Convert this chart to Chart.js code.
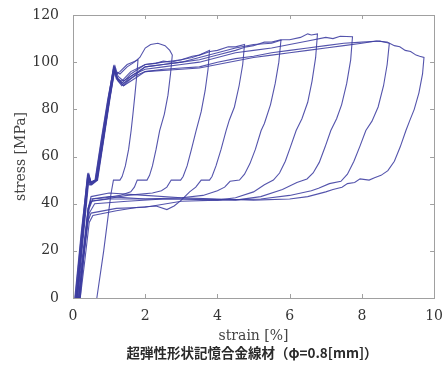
<!DOCTYPE html>
<html>
<head>
<meta charset="utf-8">
<script src="https://cdn.jsdelivr.net/npm/chart.js@4"></script>
<style>
  body { margin: 0; background: #fff; }
  #wrap { position: relative; width: 445px; height: 376px; }
  #caption {
    position: absolute; left: 0; top: 342px; width: 504px; text-align: center;
    font-family: "Noto Sans CJK JP", sans-serif; font-size: 13.5px; font-weight: bold; color: #2a2a2a;
  }
</style>
</head>
<body>
<div id="wrap">
  <canvas id="myChart" width="445" height="376"></canvas>
  <div id="caption">超弾性形状記憶合金線材（φ=0.8[mm]）</div>
</div>
<script>
// strain [%], stress [MPa], one array per load/unload cycle
var loop1 = [[0.12,0],[0.28,28],[0.43,52],[0.5,49],[0.66,50],[0.82,66],[1.0,84],[1.14,98],[1.2,95],[1.3,96],[1.5,99],[1.65,100],[1.8,101],
  [1.77,95],[1.72,87],[1.66,78],[1.61,71],[1.54,63],[1.45,56],[1.36,51.5],[1.3,50],[1.12,50],[1.05,44],[1.0,38],[0.85,20],[0.66,0]]
var loop2 = [[0.08,0],[0.25,28],[0.41,52],[0.47,49],[0.63,50],[0.8,66],[0.98,84],[1.12,98],[1.18,96],[1.3,95],[1.5,98],[1.7,100],[1.85,102],[2.0,106],[2.15,107.5],[2.35,108],[2.55,107],[2.68,105],[2.75,103],
  [2.7,95],[2.63,86],[2.53,78],[2.4,71],[2.3,63],[2.2,56],[2.12,52],[2.05,50],[1.78,50],[1.7,47],[1.6,45],[1.3,43.5],[0.9,42.5],[0.55,42],[0.45,38],[0.3,20],[0.16,0]]
var loop3 = [[0.1,0],[0.27,28],[0.42,52],[0.49,49],[0.65,50],[0.81,66],[1.0,85],[1.15,98],[1.22,93],[1.35,92],[1.6,96],[2.0,99],[2.3,99.5],[2.5,100.5],[2.7,100],[3.0,101],[3.3,102],[3.5,103],[3.78,105],
  [3.74,97],[3.66,88],[3.55,79],[3.41,71],[3.28,63],[3.16,56],[3.05,51.5],[2.98,50],[2.72,50],[2.6,47],[2.45,45.5],[2.2,44.5],[1.5,43.5],[0.9,42],[0.5,41],[0.42,37],[0.3,20],[0.15,0]]
var loop4 = [[0.06,0],[0.24,28],[0.4,52],[0.46,49],[0.62,50],[0.78,66],[0.98,85],[1.13,98],[1.2,94],[1.35,91],[1.6,95],[2.0,99],[2.5,100],[3.0,101],[3.3,102.5],[3.5,103],[3.8,104.5],[4.0,105],[4.3,106.5],[4.5,106.5],[4.75,107.5],
  [4.7,99],[4.6,90],[4.47,81],[4.33,75.5],[4.24,71],[4.1,63],[3.96,56],[3.85,51.5],[3.78,50],[3.55,50],[3.4,47],[3.23,45],[3.0,41.5],[2.8,39],[2.6,37.5],[2.3,39],[1.8,38.5],[1.2,37],[0.55,35],[0.45,32],[0.32,15],[0.2,0]]
var loop5 = [[0.1,0],[0.28,28],[0.44,52],[0.5,49],[0.67,50],[0.83,66],[1.02,85],[1.16,97],[1.24,93],[1.4,90],[1.6,93],[2.0,98],[2.5,99],[3.0,100],[3.5,101],[4.0,103],[4.5,105],[4.8,106.5],[5.0,107],[5.3,108.5],[5.5,108.5],[5.76,109.5],
  [5.7,100],[5.6,91],[5.47,82],[5.3,74],[5.21,71],[5.05,63],[4.9,57],[4.75,52.5],[4.61,50],[4.35,49.5],[4.2,47],[4.0,45.5],[3.6,43.5],[3.0,42.5],[2.0,42],[1.0,43],[0.5,42],[0.42,38],[0.28,20],[0.12,0]]
var loop6 = [[0.05,0],[0.23,28],[0.4,51],[0.46,48],[0.61,50],[0.77,66],[0.96,84],[1.12,97],[1.2,93],[1.35,90],[1.6,94],[2.0,98],[2.5,99],[3.0,100],[3.5,102],[4.0,104],[4.5,106],[5.0,107.5],[5.5,108],[5.8,109.5],[6.0,109.5],[6.3,110.5],[6.5,112],[6.6,111.5],[6.77,112],
  [6.72,102],[6.62,92],[6.5,83],[6.34,76],[6.18,71],[6.02,64],[5.88,58],[5.72,53],[5.55,50],[5.3,48],[5.0,45],[4.5,42.5],[4.0,41.5],[3.0,42],[2.0,42],[1.0,42],[0.5,41],[0.42,38],[0.3,20],[0.15,0]]
var loop7 = [[0.12,0],[0.3,28],[0.45,52],[0.52,48],[0.68,50],[0.84,66],[1.03,85],[1.17,98],[1.25,94],[1.4,92],[1.7,95],[2.0,97],[2.5,98],[3.0,99],[3.5,100],[4.0,102],[4.5,104],[5.0,105],[5.5,106],[6.0,107.5],[6.5,109],[7.0,110.5],[7.2,110],[7.4,111],[7.74,110.8],
  [7.69,101],[7.58,91],[7.44,82],[7.3,76],[7.14,71],[6.98,64],[6.82,57.5],[6.65,53],[6.48,50.5],[6.2,49],[5.8,46],[5.2,43],[4.5,41.5],[3.5,42],[2.5,42],[1.5,41],[0.6,40],[0.45,36],[0.3,18],[0.18,0]]
var loop8 = [[0.08,0],[0.26,28],[0.42,51],[0.48,48],[0.64,50],[0.8,66],[1.0,84],[1.14,97],[1.22,93],[1.4,91],[1.7,94],[2.0,96],[2.5,97],[3.0,97.5],[3.5,98],[4.0,100],[4.5,101.5],[5.0,102.5],[5.5,104],[6.0,105],[6.5,106],[7.0,107],[7.5,108],[8.0,108.5],[8.5,109],[8.76,108],
  [8.7,99],[8.6,90],[8.45,81],[8.28,75],[8.11,71],[7.95,64.5],[7.78,58],[7.6,52.5],[7.42,49.5],[7.1,48.5],[6.8,46.5],[6.6,45.5],[6.0,43.5],[5.2,42],[4.0,41.5],[3.0,41],[2.0,38.5],[1.2,38],[0.5,36],[0.4,32],[0.28,15],[0.2,0]]
var loop9 = [[0.1,0],[0.28,28],[0.43,52],[0.5,48],[0.66,50],[0.82,65],[1.0,83],[1.15,97],[1.25,92],[1.4,90],[1.7,93],[2.0,96],[2.5,96.5],[3.0,97],[3.5,97.5],[4.0,99],[4.5,100.5],[5.0,102],[5.5,103],[6.0,104],[6.5,105],[7.0,106],[7.5,107],[8.0,108],[8.4,109],[8.7,108.5],[8.9,107],[9.05,106.5],[9.2,105],[9.35,104.5],[9.5,103],[9.6,102.5],[9.72,102],
  [9.68,95],[9.58,87],[9.45,80],[9.32,75],[9.22,71],[9.06,64],[8.9,58],[8.72,54],[8.53,52],[8.35,51],[8.2,50],[7.95,50.5],[7.8,49],[7.6,48.5],[7.45,47],[7.2,46],[7.0,45],[6.5,43],[6.0,42],[5.0,41.5],[4.0,42],[3.0,42.5],[2.0,43.5],[1.0,44.5],[0.5,43],[0.42,38],[0.3,18],[0.18,0]]

var xTicks = [0, 2, 4, 6, 8, 10]
var yTicks = [0, 20, 40, 60, 80, 100, 120]

var loops = [loop1, loop2, loop3, loop4, loop5, loop6, loop7, loop8, loop9]
var datasets = []
for (var i = 0; i < loops.length; i++) {
    datasets.push({
        data: loops[i].map(function(p){ return {x: p[0], y: p[1]} }),
        showLine: true,
        borderColor: 'rgba(60,60,160,0.88)',
        borderWidth: 1.1,
        pointRadius: 0,
        tension: 0
    })
}

// box frame with inward ticks, like the original plot
const frame = {
    id: 'frame',
    beforeDatasetsDraw(chart) {
        const ctx = chart.ctx, a = chart.chartArea
        const x = chart.scales.x, y = chart.scales.y
        ctx.save()
        ctx.strokeStyle = '#a0a0a0'
        ctx.lineWidth = 1
        ctx.strokeRect(Math.round(a.left) + 0.5, Math.round(a.top) + 0.5, Math.round(a.right - a.left), Math.round(a.bottom - a.top))
        ctx.beginPath()
        xTicks.forEach(function(v){
            var px = Math.round(x.getPixelForValue(v)) + 0.5
            ctx.moveTo(px, a.bottom); ctx.lineTo(px, a.bottom - 4)
            ctx.moveTo(px, a.top); ctx.lineTo(px, a.top + 4)
        })
        yTicks.forEach(function(v){
            var py = Math.round(y.getPixelForValue(v)) + 0.5
            ctx.moveTo(a.left, py); ctx.lineTo(a.left + 4, py)
            ctx.moveTo(a.right, py); ctx.lineTo(a.right - 4, py)
        })
        ctx.stroke()
        ctx.restore()
    }
}

const serif = {family: 'DejaVu Serif', size: 14}

new Chart(document.getElementById('myChart'), {
    type: 'scatter',
    data: { datasets: datasets },
    options: {
        responsive: false,
        animation: false,
        layout: { padding: { top: 15, right: 10, left: 0, bottom: 28 } },
        plugins: { legend: { display: false }, tooltip: { enabled: false } },
        scales: {
            x: {
                type: 'linear', min: 0, max: 10,
                afterFit: function(s){ s.height = 50 },
                afterBuildTicks: function(s){ s.ticks = xTicks.map(function(v){ return {value: v} }) },
                ticks: { font: serif, color: '#333', padding: 2 },
                grid: { display: false },
                border: { display: false },
                title: { display: true, text: 'strain [%]', font: serif, color: '#444', padding: { top: 3, bottom: 3 } }
            },
            y: {
                type: 'linear', min: 0, max: 120,
                afterFit: function(s){ s.width = 73 },
                afterBuildTicks: function(s){ s.ticks = yTicks.map(function(v){ return {value: v} }) },
                ticks: { font: serif, color: '#333', padding: 6 },
                grid: { display: false },
                border: { display: false },
                title: { display: true, text: 'stress [MPa]', font: serif, color: '#444', padding: { top: 13, bottom: 0 } }
            }
        }
    },
    plugins: [frame]
})
</script>
</body>
</html>
